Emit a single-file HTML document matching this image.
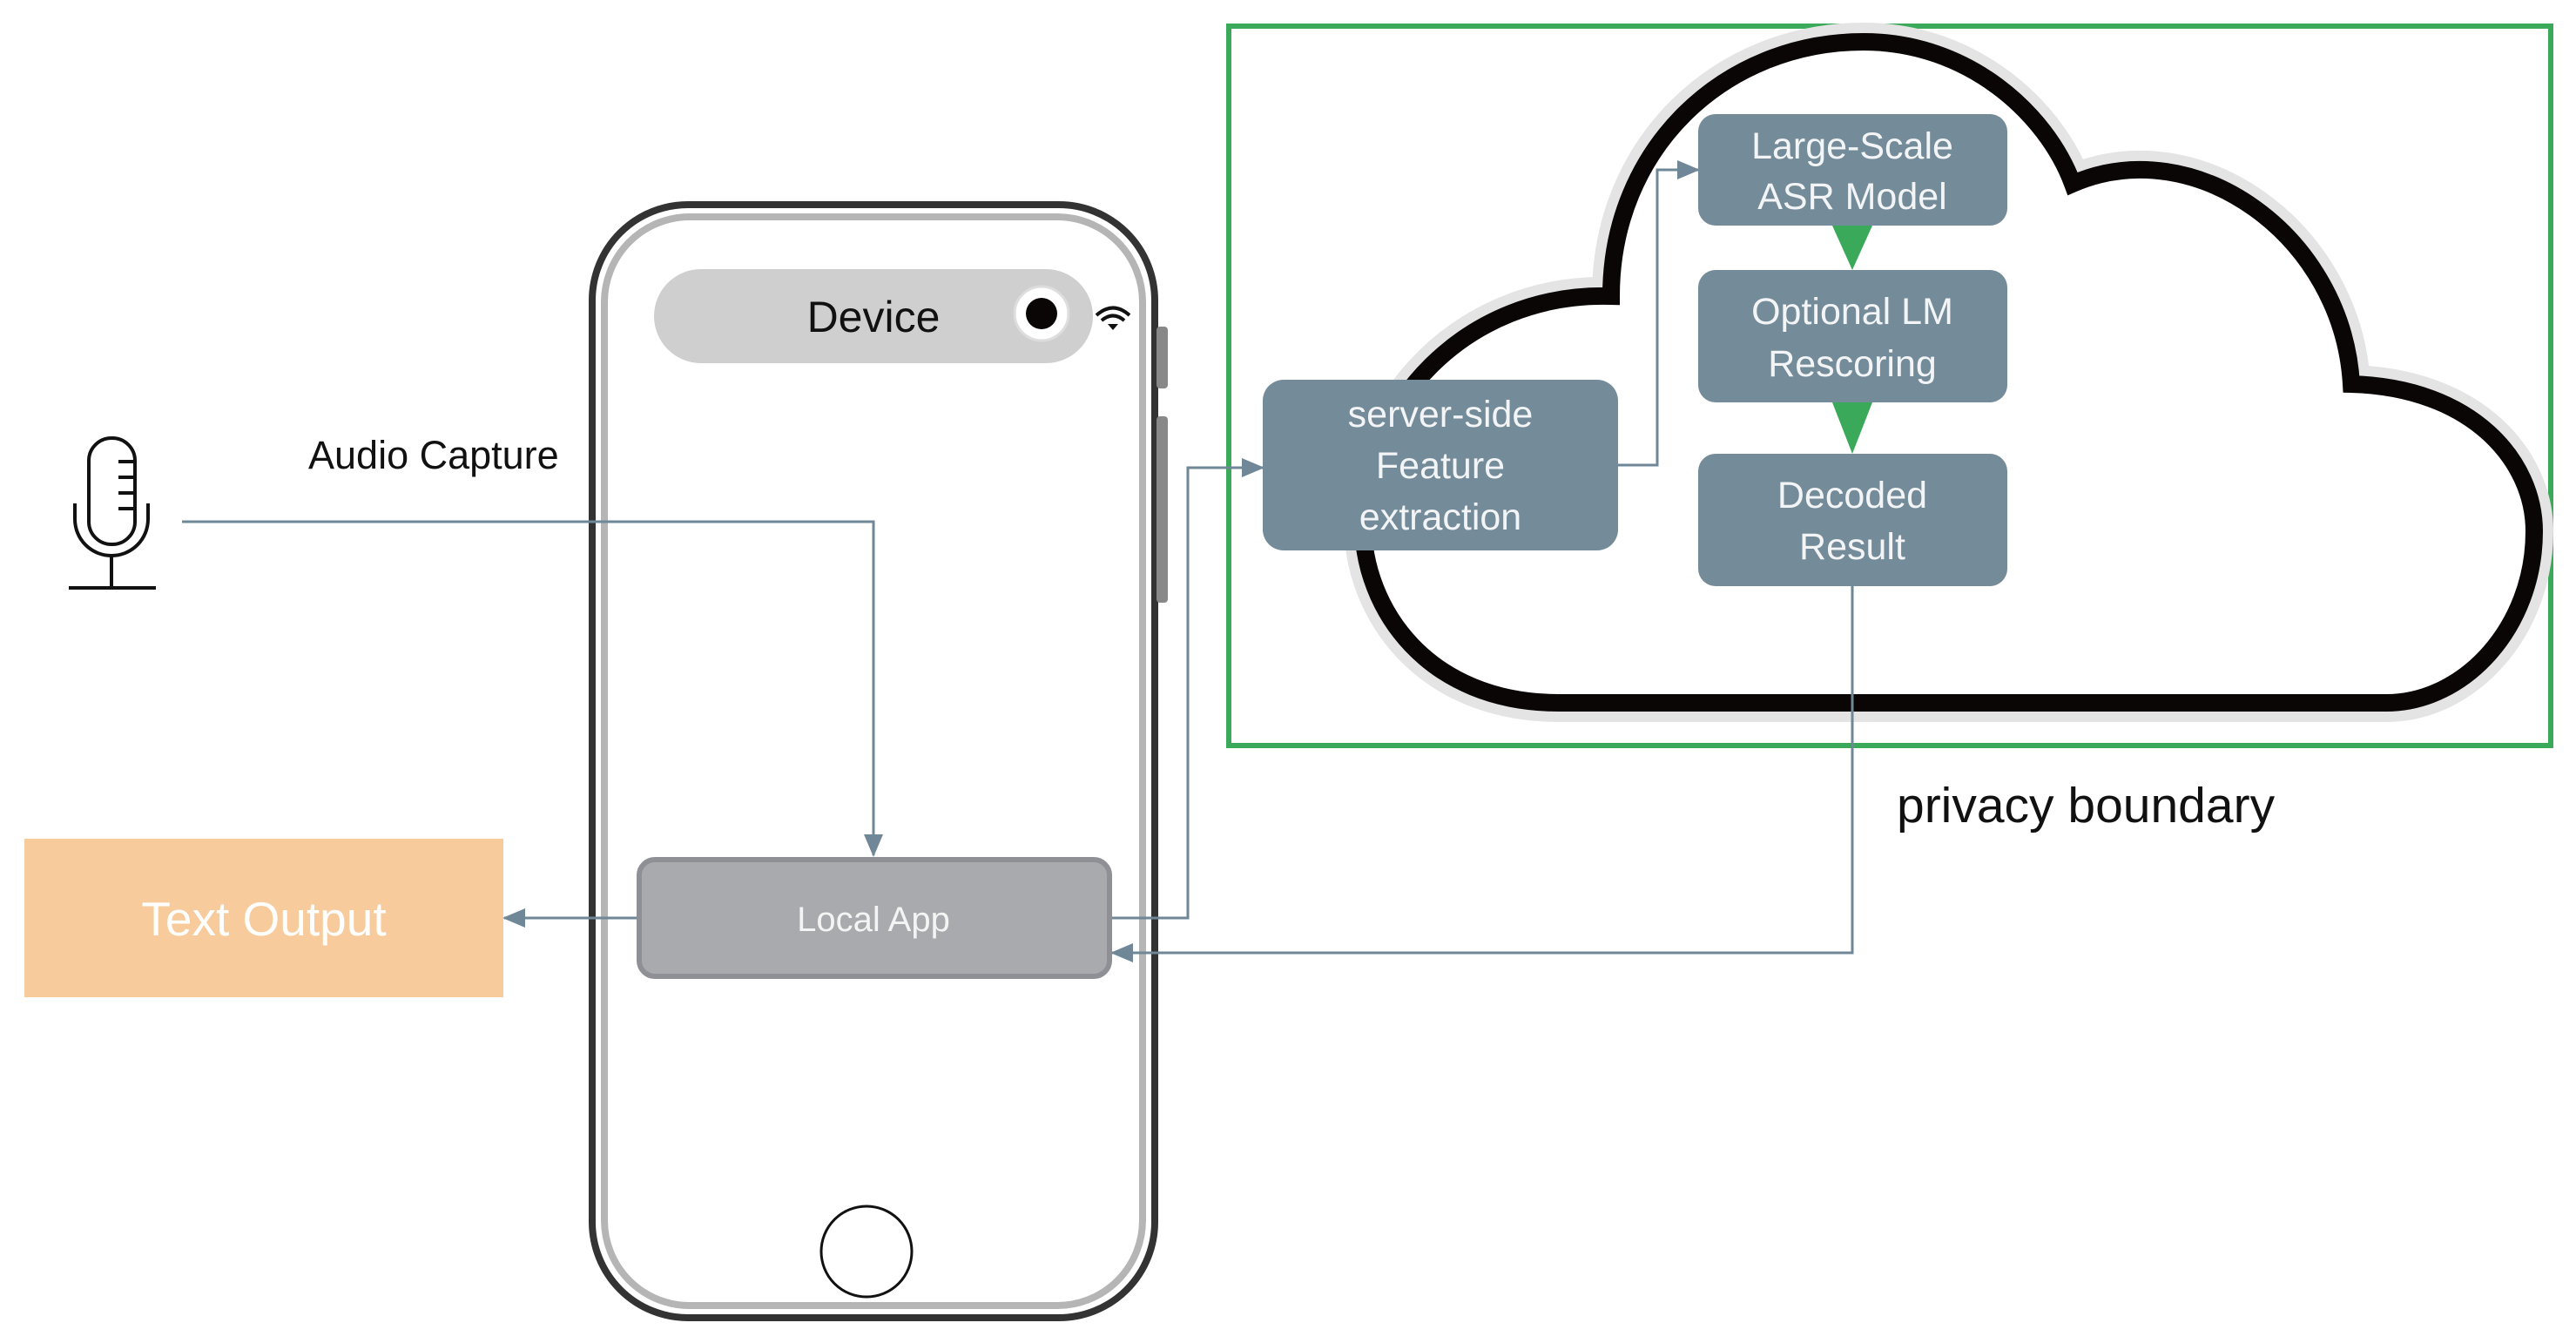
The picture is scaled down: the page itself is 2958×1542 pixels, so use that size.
<!DOCTYPE html>
<html><head><meta charset="utf-8"><style>
body{margin:0;background:#fff;}
svg{display:block}
text{font-family:"Liberation Sans",sans-serif;}
</style></head><body>
<svg width="2958" height="1542" viewBox="0 0 2958 1542" xmlns="http://www.w3.org/2000/svg">
<defs>
<marker id="ab" markerWidth="26" markerHeight="22" refX="24" refY="11" orient="auto" markerUnits="userSpaceOnUse"><path d="M0,0 L26,11 L0,22 z" fill="#6f8796"/></marker>
</defs>
<rect x="1411" y="30" width="1518" height="826" fill="none" stroke="#3aaa5a" stroke-width="6"/>
<path d="M1790,807 C1640,807 1565,700 1565,600 C1565,470 1680,335 1850,340 C1850,170 1980,48 2140,48 C2260,48 2350,130 2380,211 C2520,150 2690,270 2700,441 C2840,445 2910,530 2910,610 C2910,720 2830,807 2740,807 Z" fill="#fff" stroke="#e4e4e4" stroke-width="44"/>
<path d="M1790,807 C1640,807 1565,700 1565,600 C1565,470 1680,335 1850,340 C1850,170 1980,48 2140,48 C2260,48 2350,130 2380,211 C2520,150 2690,270 2700,441 C2840,445 2910,530 2910,610 C2910,720 2830,807 2740,807 Z" fill="#fff" stroke="#0a0605" stroke-width="20"/>
<rect x="680" y="235" width="646" height="1278" rx="110" fill="#fff" stroke="#333" stroke-width="8"/>
<rect x="694" y="249" width="618" height="1250" rx="98" fill="#fff" stroke="#b5b5b5" stroke-width="8"/>
<rect x="1328" y="375" width="13" height="71" rx="4" fill="#888"/>
<rect x="1328" y="478" width="13" height="214" rx="4" fill="#888"/>
<rect x="751" y="309" width="504" height="108" rx="54" fill="#cfcfcf"/>
<text x="1003" y="381" font-size="50" text-anchor="middle" fill="#111">Device</text>
<circle cx="1196" cy="360" r="31" fill="#fff" stroke="#ddd" stroke-width="3"/>
<circle cx="1196" cy="360" r="18" fill="#0a0605"/>
<g fill="none" stroke="#111" stroke-width="4">
<path d="M1259,362 Q1278,345 1297,362"/><path d="M1265,368 Q1278,357 1291,368"/></g>
<path d="M1272,372 L1278,379 L1284,372 z" fill="#111"/>
<circle cx="995" cy="1437" r="52" fill="#fff" stroke="#111" stroke-width="3"/>
<g fill="none" stroke="#111" stroke-width="4">
<rect x="102" y="503" width="53" height="122" rx="26"/>
<path d="M86,578 L86,596 A42,42 0 0 0 170,596 L170,578"/>
<line x1="128" y1="638" x2="128" y2="675"/>
<line x1="79" y1="675" x2="179" y2="675"/>
<line x1="136" y1="530" x2="155" y2="530"/><line x1="136" y1="548" x2="155" y2="548"/><line x1="136" y1="566" x2="155" y2="566"/><line x1="136" y1="584" x2="155" y2="584"/>
</g>
<text x="354" y="538" font-size="45" fill="#111">Audio Capture</text>
<g fill="none" stroke="#6f8796" stroke-width="3">
<path d="M209,599 L1003,599 L1003,982" marker-end="url(#ab)"/>
<path d="M734,1054 L579,1054" marker-end="url(#ab)"/>
<path d="M1277,1054 L1364,1054 L1364,537 L1450,537" marker-end="url(#ab)"/>
<path d="M1856,534 L1903,534 L1903,195 L1950,195" marker-end="url(#ab)"/>
<path d="M2127,673 L2127,1094 L1277,1094" marker-end="url(#ab)"/>
</g>
<rect x="734" y="987" width="540" height="134" rx="18" fill="#a9aaae" stroke="#8f9096" stroke-width="6"/>
<text x="1003" y="1069" font-size="40" text-anchor="middle" fill="#f4f4f4">Local App</text>
<rect x="28" y="963" width="550" height="182" fill="#f8cb9c"/>
<text x="303" y="1074" font-size="55" text-anchor="middle" fill="#fff">Text Output</text>
<g fill="#748b99">
<rect x="1450" y="436" width="408" height="196" rx="24"/>
<rect x="1950" y="131" width="355" height="128" rx="20"/>
<rect x="1950" y="310" width="355" height="152" rx="20"/>
<rect x="1950" y="521" width="355" height="152" rx="20"/>
</g>
<g fill="#3aaa5a">
<path d="M2104,259 L2150,259 L2127,310 z"/>
<path d="M2104,462 L2150,462 L2127,521 z"/>
</g>
<g font-size="43" fill="#f2f4f6" text-anchor="middle">
<text x="1654" y="490">server-side</text>
<text x="1654" y="549">Feature</text>
<text x="1654" y="608">extraction</text>
<text x="2127" y="182">Large-Scale</text>
<text x="2127" y="240">ASR Model</text>
<text x="2127" y="372">Optional LM</text>
<text x="2127" y="432">Rescoring</text>
<text x="2127" y="583">Decoded</text>
<text x="2127" y="642">Result</text>
</g>
<text x="2178" y="944" font-size="57" fill="#111">privacy boundary</text>
</svg>
</body></html>
